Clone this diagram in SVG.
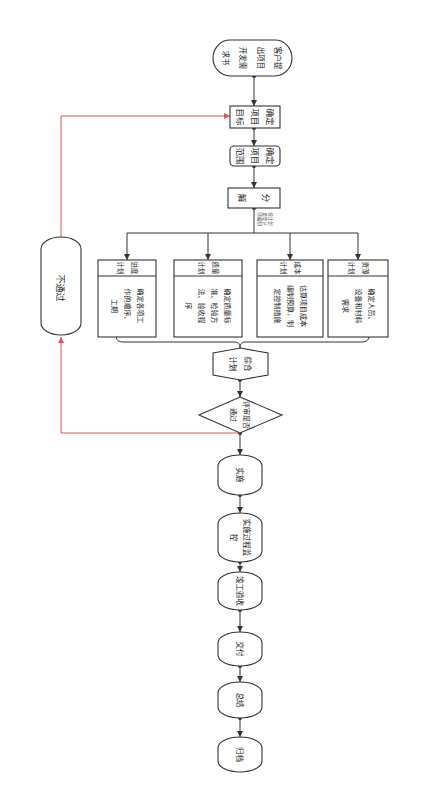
<svg xmlns="http://www.w3.org/2000/svg" width="446" height="790" viewBox="0 0 446 790">
<style>
.n{fill:#fff;stroke:#333;stroke-width:1.1}
.c{fill:none;stroke:#333;stroke-width:1}
.r{fill:none;stroke:#e25555;stroke-width:1}
text{font-family:"Noto Sans CJK SC","Noto Sans",sans-serif;fill:#222;text-anchor:middle}
.f9{font-size:9px}
.f85{font-size:8.5px}
.f75{font-size:7.5px}
.f7{font-size:7px}
.f65{font-size:6.5px}
.f4{font-size:4.5px;fill:#556}
</style>
<defs>
<marker id="a" viewBox="0 0 10 10" refX="10" refY="5" markerWidth="6" markerHeight="6" orient="auto"><path d="M0,0L10,5L0,10z" fill="#333"/></marker>
<marker id="ar" viewBox="0 0 10 10" refX="10" refY="5" markerWidth="6" markerHeight="6" orient="auto"><path d="M0,0L10,5L0,10z" fill="#e25555"/></marker>
<marker id="d" viewBox="0 0 10 10" refX="5" refY="5" markerWidth="4" markerHeight="4"><circle cx="5" cy="5" r="5" fill="#333"/></marker>
</defs>
<rect width="446" height="790" fill="#fff"/>
<g id="connectors">
<path class="c" d="M254,76V106" marker-start="url(#d)" marker-end="url(#a)"/>
<path class="c" d="M254,128V146" marker-start="url(#d)" marker-end="url(#a)"/>
<path class="c" d="M254,166V188" marker-start="url(#d)" marker-end="url(#a)"/>
<path class="c" d="M254,208V233" marker-start="url(#d)"/>
<path class="c" d="M127,233H358"/>
<path class="c" d="M127,233V260" marker-end="url(#a)"/>
<path class="c" d="M208,233V260" marker-end="url(#a)"/>
<path class="c" d="M290,233V260" marker-end="url(#a)"/>
<path class="c" d="M358,233V260" marker-end="url(#a)"/>
<path class="c" d="M116,337Q117,342 123,342L235,342Q240,342 240,348Q240,342 245,342L362,342Q368,342 369,337"/>
<path class="c" d="M240,380V397" marker-start="url(#d)" marker-end="url(#a)"/>
<path class="c" d="M240,433V455" marker-start="url(#d)" marker-end="url(#a)"/>
<path class="c" d="M240,495V513" marker-start="url(#d)" marker-end="url(#a)"/>
<path class="c" d="M240,562V572" marker-start="url(#d)" marker-end="url(#a)"/>
<path class="c" d="M240,610V632" marker-start="url(#d)" marker-end="url(#a)"/>
<path class="c" d="M240,666V682" marker-start="url(#d)" marker-end="url(#a)"/>
<path class="c" d="M240,718V737" marker-start="url(#d)" marker-end="url(#a)"/>
<path class="r" d="M240,433H61V337" marker-end="url(#ar)"/>
<path class="r" d="M61,237V116H230" marker-end="url(#ar)"/>
<text class="f4" transform="translate(265,219) rotate(90)"><tspan x="0" y="-4">按计划</tspan><tspan x="0" y="1.6">类型分</tspan><tspan x="0" y="7.2">别编制</tspan></text>
</g>
<g id="start">
<rect class="n" x="213" y="40" width="79" height="36" rx="17" ry="18"/>
<text class="f75" transform="translate(252,58) rotate(90)"><tspan x="0" y="-23.4">客户提</tspan><tspan x="0" y="-6.4">出项目</tspan><tspan x="0" y="11.6">开发需</tspan><tspan x="0" y="28.6">求书</tspan></text>
</g>
<g id="goal">
<rect class="n" x="230" y="106" width="50" height="22"/>
<text class="f85" transform="translate(255,117) rotate(90)"><tspan x="0" y="-12">确定</tspan><tspan x="0" y="3">项目</tspan><tspan x="0" y="18">目标</tspan></text>
</g>
<g id="scope">
<rect class="n" x="230" y="146" width="50" height="20" rx="4"/>
<text class="f85" transform="translate(255,156) rotate(90)"><tspan x="0" y="-12">确定</tspan><tspan x="0" y="3">项目</tspan><tspan x="0" y="18">范围</tspan></text>
</g>
<g id="split">
<rect class="n" x="228" y="188" width="52" height="20"/>
<text class="f85" transform="translate(254,198) rotate(90)"><tspan x="0" y="-9">分</tspan><tspan x="0" y="15">解</tspan></text>
</g>
<g id="plan1">
<rect class="n" x="98" y="260" width="58" height="77"/>
<path class="c" d="M98,276H156"/>
<text class="f65" transform="translate(127,268) rotate(90)"><tspan x="0" y="-4.7">进度</tspan><tspan x="0" y="9.3">计划</tspan></text>
<text class="f7" transform="translate(127,306) rotate(90)"><tspan x="0" y="-10.55">确定各项工</tspan><tspan x="0" y="2.45">作的顺序、</tspan><tspan x="0" y="15.45">工期</tspan></text>
</g>
<g id="plan2">
<rect class="n" x="174" y="260" width="68" height="77"/>
<path class="c" d="M174,276H242"/>
<text class="f65" transform="translate(208,268) rotate(90)"><tspan x="0" y="-4.7">质量</tspan><tspan x="0" y="9.3">计划</tspan></text>
<text class="f7" transform="translate(208,306) rotate(90)"><tspan x="0" y="-17.05">确定质量标</tspan><tspan x="0" y="-4.05">准、检验方</tspan><tspan x="0" y="8.95">法、验收程</tspan><tspan x="0" y="21.95">序</tspan></text>
</g>
<g id="plan3">
<rect class="n" x="257" y="260" width="66" height="77"/>
<path class="c" d="M257,276H323"/>
<text class="f65" transform="translate(290,268) rotate(90)"><tspan x="0" y="-4.7">成本</tspan><tspan x="0" y="9.3">计划</tspan></text>
<text class="f7" transform="translate(290,306) rotate(90)"><tspan x="0" y="-10.55">估算项目成本</tspan><tspan x="0" y="2.45">编制预算，制</tspan><tspan x="0" y="15.45">定控制措施</tspan></text>
</g>
<g id="plan4">
<rect class="n" x="328" y="260" width="60" height="77"/>
<path class="c" d="M328,276H388"/>
<text class="f65" transform="translate(358,268) rotate(90)"><tspan x="0" y="-4.7">资源</tspan><tspan x="0" y="9.3">计划</tspan></text>
<text class="f7" transform="translate(358,306) rotate(90)"><tspan x="0" y="-10.55">确定人员、</tspan><tspan x="0" y="2.45">设备和材料</tspan><tspan x="0" y="15.45">需求</tspan></text>
</g>
<g id="merge">
<path class="n" d="M213,353L240.5,348L268,353V375L240.5,380L213,375Z"/>
<text class="f75" transform="translate(240.5,364) rotate(90)"><tspan x="0" y="-4.9">综合</tspan><tspan x="0" y="10.1">计划</tspan></text>
</g>
<g id="review">
<path class="n" d="M240,397L282,415L240,433L199,415Z"/>
<text class="f7" transform="translate(240,415) rotate(90)"><tspan x="0" y="-4.05">评审是否</tspan><tspan x="0" y="8.95">通过</tspan></text>
</g>
<g id="reject">
<rect class="n" x="41" y="237" width="40" height="98" rx="20" ry="12"/>
<text class="f9" transform="translate(60,288) rotate(90)"><tspan x="0" y="3.15">不通过</tspan></text>
</g>
<g id="s1">
<rect class="n" x="218" y="455" width="44" height="40" rx="22" ry="11"/>
<text class="f75" transform="translate(240,475) rotate(90)"><tspan x="0" y="2.6">实施</tspan></text>
</g>
<g id="s2">
<rect class="n" x="218" y="513" width="44" height="49" rx="22" ry="11"/>
<text class="f75" transform="translate(240,537.5) rotate(90)"><tspan x="0" y="-3.9">实施过程监</tspan><tspan x="0" y="9.1">控</tspan></text>
</g>
<g id="s3">
<rect class="n" x="218" y="572" width="44" height="38" rx="22" ry="11"/>
<text class="f75" transform="translate(240,591) rotate(90)"><tspan x="0" y="2.6">竣工验收</tspan></text>
</g>
<g id="s4">
<rect class="n" x="218" y="632" width="44" height="34" rx="22" ry="11"/>
<text class="f75" transform="translate(240,649) rotate(90)"><tspan x="0" y="2.6">交付</tspan></text>
</g>
<g id="s5">
<rect class="n" x="218" y="682" width="44" height="36" rx="22" ry="11"/>
<text class="f75" transform="translate(240,700) rotate(90)"><tspan x="0" y="2.6">总结</tspan></text>
</g>
<g id="s6">
<rect class="n" x="218" y="737" width="44" height="35" rx="22" ry="11"/>
<text class="f75" transform="translate(240,754.5) rotate(90)"><tspan x="0" y="2.6">归档</tspan></text>
</g>
</svg>
